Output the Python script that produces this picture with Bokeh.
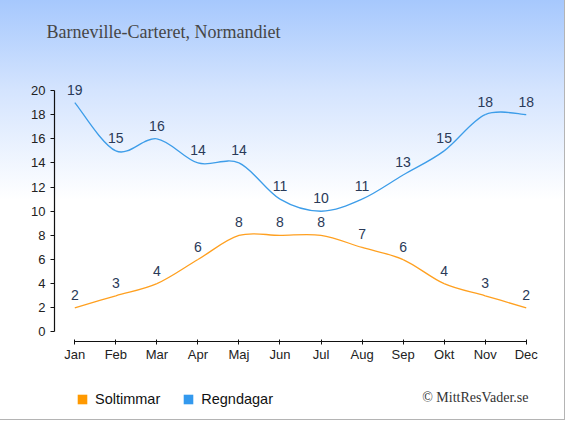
import numpy as np
from bokeh.plotting import figure
from bokeh.layouts import column
from bokeh.models import (ColumnDataSource, FixedTicker, Legend, LegendItem,
                          Label, Range1d)
from bokeh.core.properties import value
from bokeh.embed import file_html
from bokeh.resources import INLINE

months = ["Jan", "Feb", "Mar", "Apr", "Maj", "Jun", "Jul", "Aug", "Sep", "Okt", "Nov", "Dec"]
soltimmar = [2, 3, 4, 6, 8, 8, 8, 7, 6, 4, 3, 2]
regndagar = [19, 15, 16, 14, 14, 11, 10, 11, 13, 15, 18, 18]
y_ticks = [0, 2, 4, 6, 8, 10, 12, 14, 16, 18, 20]
title_text = "Barneville-Carteret, Normandiet"
credit_text = "\u00a9 MittResVader.se"
series_names = ["Soltimmar", "Regndagar"]

ORANGE_LINE = "#ffa020"
ORANGE = "#ff9900"
BLUE_LINE = "#3d9de9"
BLUE = "#3399ee"
LABEL_COLOR = "#2a3a58"

W = 564
TOP = 60
FRAME_H = 281
BOTTOM = 27
FOOT_H = 51
FRAME_L = 54
FRAME_R = 552


def bezier_source(vals):
    """Catmull-Rom segments expressed as cubic Bezier control points."""
    y = np.asarray(vals, dtype=float)
    n = len(y)
    x = np.arange(n, dtype=float)
    i = np.arange(n - 1)
    im1 = np.maximum(i - 1, 0)
    ip1 = i + 1
    ip2 = np.minimum(i + 2, n - 1)
    return ColumnDataSource(dict(
        x0=x[i], y0=y[i], x1=x[ip1], y1=y[ip1],
        cx0=x[i] + (x[ip1] - x[im1]) / 6.0,
        cy0=y[i] + (y[ip1] - y[im1]) / 6.0,
        cx1=x[ip1] - (x[ip2] - x[i]) / 6.0,
        cy1=y[ip1] - (y[ip2] - y[i]) / 6.0,
    ))


def bare(fig):
    fig.background_fill_color = None
    fig.border_fill_color = None
    fig.outline_line_color = None
    fig.xgrid.visible = False
    fig.ygrid.visible = False
    return fig


# ---------- main chart ----------
p = bare(figure(width=W, height=TOP + FRAME_H + BOTTOM,
                x_range=Range1d(-0.4946, 11.64), y_range=Range1d(-0.787, 22.485),
                output_backend="svg", toolbar_location=None,
                min_border_left=FRAME_L, min_border_right=W - FRAME_R,
                min_border_top=TOP, min_border_bottom=BOTTOM))

p.title.text = title_text
p.title.text_font = "Liberation Serif"
p.title.text_font_size = "18px"
p.title.text_font_style = "normal"
p.title.text_color = "#464646"
p.title.align = "left"
p.title.offset = -8
p.title.standoff = 37

p.xaxis.ticker = FixedTicker(ticks=list(range(len(months))))
p.xaxis.major_label_overrides = {i: m for i, m in enumerate(months)}
p.xaxis.bounds = (0, len(months) - 1)
p.xaxis.minor_tick_line_color = None
p.xaxis.major_tick_in = 2
p.xaxis.major_tick_out = 3
p.xaxis.major_label_standoff = 2
p.yaxis.ticker = FixedTicker(ticks=y_ticks)
p.yaxis.bounds = (y_ticks[0], y_ticks[-1])
p.yaxis.minor_tick_line_color = None
p.yaxis.major_tick_in = 0
p.yaxis.major_tick_out = 4
p.yaxis.major_label_standoff = 5
for ax in (p.xaxis, p.yaxis):
    ax.axis_line_color = "#111111"
    ax.major_tick_line_color = "#111111"
    ax.axis_line_width = 1.2
    ax.major_label_text_font = "Liberation Sans"
    ax.major_label_text_font_size = "13px"
    ax.major_label_text_color = "#222222"

p.bezier(x0="x0", y0="y0", x1="x1", y1="y1", cx0="cx0", cy0="cy0", cx1="cx1", cy1="cy1",
         source=bezier_source(soltimmar), line_color=ORANGE_LINE, line_width=1.3)
p.bezier(x0="x0", y0="y0", x1="x1", y1="y1", cx0="cx0", cy0="cy0", cx1="cx1", cy1="cy1",
         source=bezier_source(regndagar), line_color=BLUE_LINE, line_width=1.3)

for vals in (soltimmar, regndagar):
    src = ColumnDataSource(dict(x=list(range(len(vals))), y=vals, t=[str(v) for v in vals]))
    p.text(x="x", y="y", text="t", source=src, text_align="center", text_baseline="middle",
           y_offset=-13, text_font=value("Liberation Sans"), text_font_size="14px",
           text_color=LABEL_COLOR)

# ---------- footer (legend + credit) ----------
# footer frame is aligned with the main frame; data units = page pixels
foot = bare(figure(width=W, height=FOOT_H, x_range=Range1d(FRAME_L, FRAME_R),
                   y_range=Range1d(0, FOOT_H),
                   x_axis_type=None, y_axis_type=None, output_backend="svg",
                   toolbar_location=None, min_border=0,
                   min_border_left=FRAME_L, min_border_right=W - FRAME_R))
nan = np.array([np.nan])
r_sol = foot.quad(left=nan, right=nan, top=nan, bottom=nan, fill_color=ORANGE, line_color=None)
r_reg = foot.quad(left=nan, right=nan, top=nan, bottom=nan, fill_color=BLUE, line_color=None)
legend = Legend(items=[LegendItem(label=series_names[0], renderers=[r_sol]),
                       LegendItem(label=series_names[1], renderers=[r_reg])],
                orientation="horizontal", location=(76 - FRAME_L, 12),
                glyph_width=12, glyph_height=12, label_height=12,
                label_standoff=7, spacing=22, padding=0, margin=0,
                background_fill_alpha=0, border_line_color=None,
                label_text_font="Liberation Sans", label_text_font_size="14.5px",
                label_text_color="#111111")
foot.add_layout(legend, "center")
foot.add_layout(Label(x=528, y=FOOT_H - 29, text=credit_text,
                      text_font="Liberation Serif", text_font_size="14px",
                      text_color="#333333", text_baseline="middle", text_align="right"))

layout = column(p, foot, spacing=0,
                styles={"background": "linear-gradient(to bottom, #a6c8fd 0px, #d4e4fe 90px, #ffffff 200px, #ffffff 100%)",
                        "outline": "1px solid #b4b4b4"})

open("out.html", "w").write(file_html(layout, INLINE))
